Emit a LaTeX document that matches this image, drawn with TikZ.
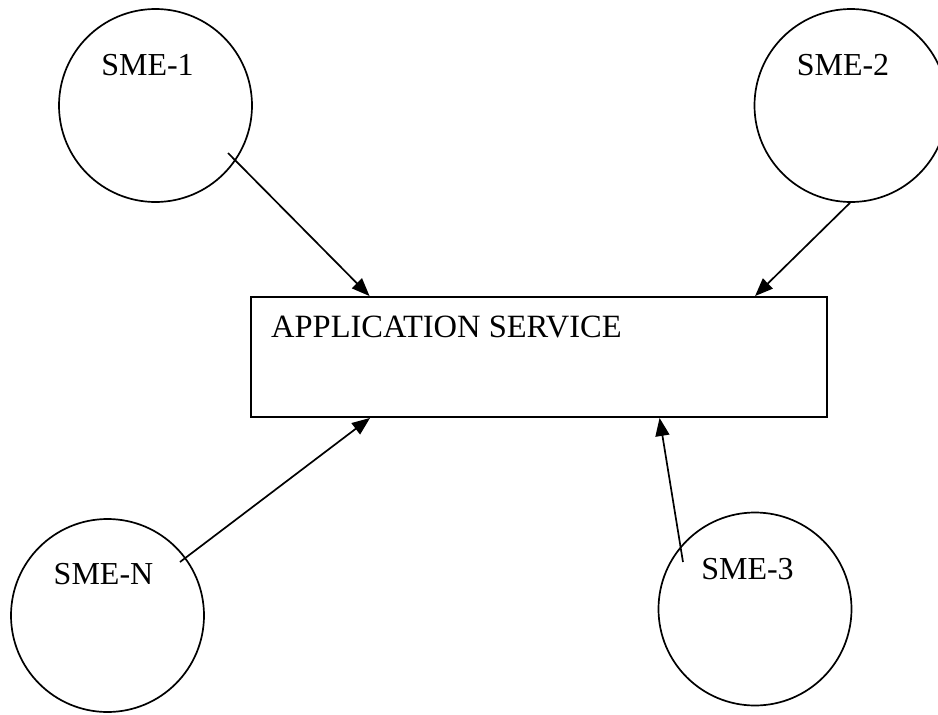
\documentclass[tikz,border=0pt]{standalone}
\usepackage{fontspec}
\setmainfont{Liberation Serif}
\usetikzlibrary{arrows.meta,calc}
\begin{document}
\begin{tikzpicture}[x=1pt,y=-1pt,
  sme/.style={circle,draw,line width=1.7pt,minimum size=193pt,inner sep=0pt},
  lbl/.style={font=\fontsize{32}{38}\selectfont,inner sep=0pt,anchor=base},
  box/.style={draw,line width=1.9pt,minimum width=576pt,minimum height=120pt,inner sep=0pt},
  feed/.style={line width=1.7pt,-{Triangle[length=18pt,width=14pt]}}]
\useasboundingbox (0,0) rectangle (938,715);

% central service box
\node[box] (app) at (539,357) {};
\node[lbl,anchor=base west,font=\fontsize{32.5}{38}\selectfont] (apptext) at (271,337) {APPLICATION SERVICE};

% subject matter experts
\node[sme] (c1) at (155.5,105.5) {};
\node[sme] (c2) at (851,105.5) {};
\node[sme] (cN) at (107.5,615.5) {};
\node[sme] (c3) at (755,609) {};

\node[lbl] (l1) at (147.5,75) {SME-1};
\node[lbl] (l2) at (843,75) {SME-2};
\node[lbl] (lN) at (103.5,584) {SME-N};
\node[lbl] (l3) at (747.5,579) {SME-3};

% arrow end points
\coordinate (s1) at ($(c1)+(72.5,47.5)$);
\coordinate (s2) at ($(c2.south)+(-1,0)$);
\coordinate (sN) at ($(cN)+(72.5,-53.5)$);
\coordinate (s3) at ($(c3)+(-72,-47)$);
\coordinate (e1) at ($(app.north west)+(119.5,0)$);
\coordinate (e2) at ($(app.north west)+(505,0)$);
\coordinate (eN) at ($(app.south west)+(120,0)$);
\coordinate (e3) at ($(app.south west)+(409.5,0)$);

\draw[feed] (s1) -- (e1);
\draw[feed] (s2) -- (e2);
\draw[feed] (sN) -- (eN);
\draw[feed] (s3) -- (e3);
\end{tikzpicture}
\end{document}
